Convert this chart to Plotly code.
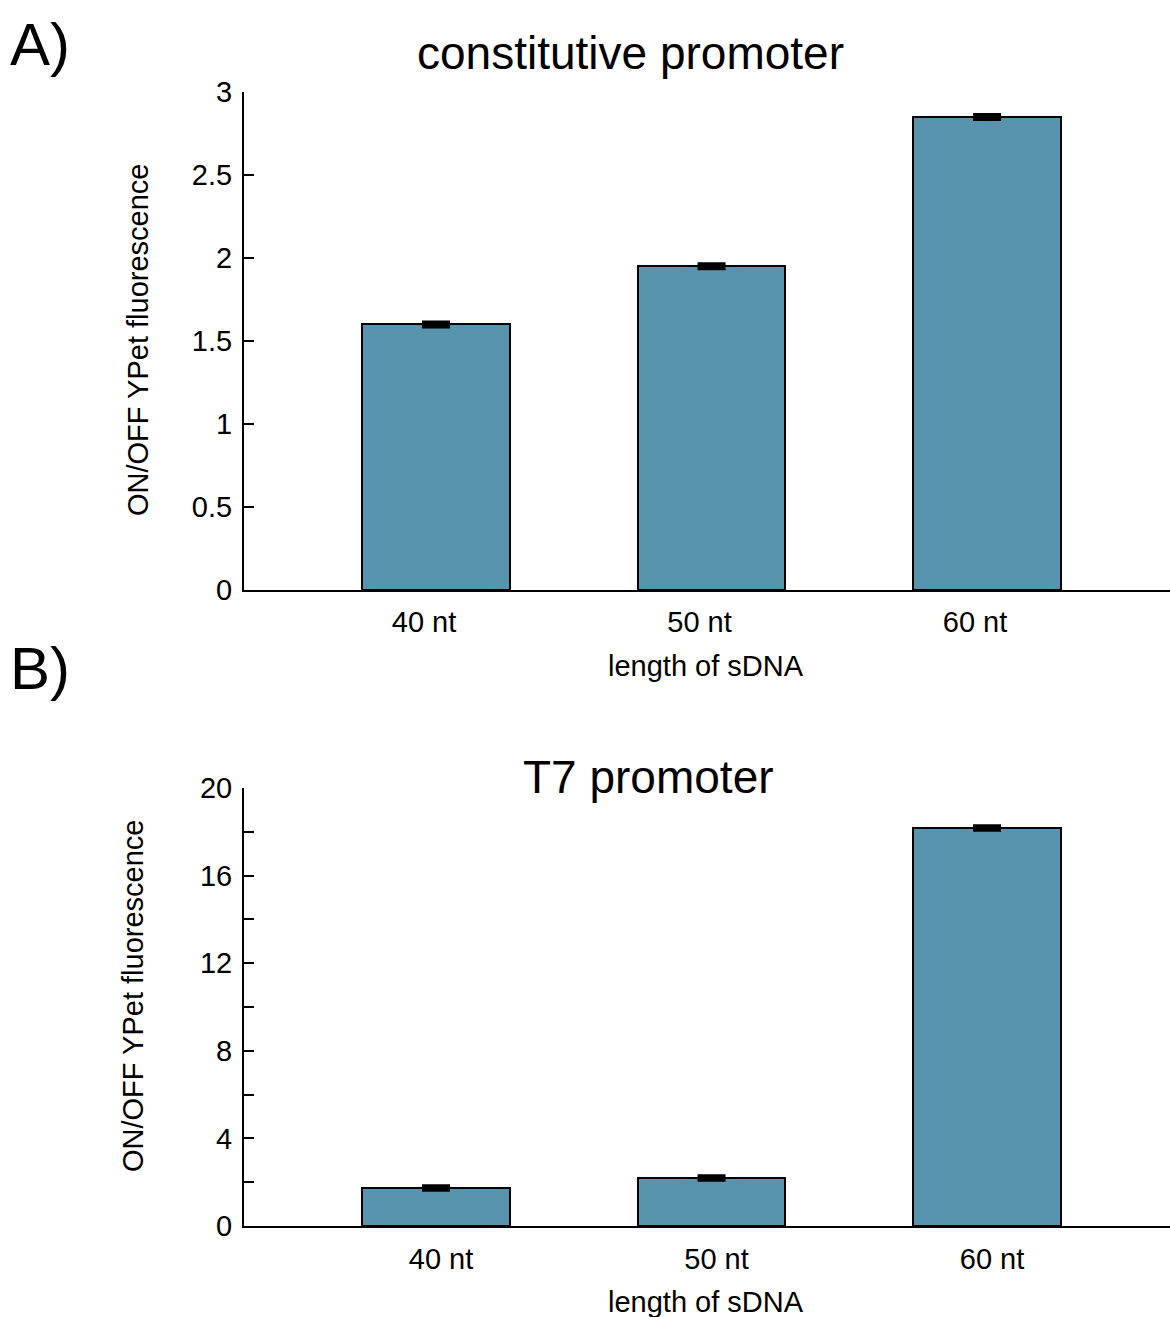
import plotly.graph_objects as go

categories = ["40 nt", "50 nt", "60 nt"]
const_values = [1.60, 1.95, 2.85]
const_errors = [0.012, 0.012, 0.012]
t7_values = [1.73, 2.19, 18.17]
t7_errors = [0.08, 0.08, 0.08]
const_ticks = [0, 0.5, 1, 1.5, 2, 2.5, 3]
const_ticklabels = ["0", "0.5", "1", "1.5", "2", "2.5", "3"]
t7_ticks = [0, 4, 8, 12, 16, 20]

W, H = 1170, 1317
BAR = "#5894ad"
FONT = "Liberation Sans, Arial, sans-serif"
TICKSZ = 29

def py(p):
    return 1 - p / H

fig = go.Figure()
fig.add_trace(go.Bar(x=[0, 1, 2], y=const_values,
                     error_y=dict(type="data", array=const_errors, color="black", thickness=4, width=14),
                     marker=dict(color=BAR, line=dict(color="black", width=2)),
                     width=0.535, xaxis="x", yaxis="y", showlegend=False))
fig.add_trace(go.Bar(x=[0, 1, 2], y=t7_values,
                     error_y=dict(type="data", array=t7_errors, color="black", thickness=4, width=14),
                     marker=dict(color=BAR, line=dict(color="black", width=2)),
                     width=0.535, xaxis="x2", yaxis="y2", showlegend=False))

xcommon = dict(range=[-0.697, 2.664], showline=True, linecolor="black", linewidth=2,
               ticks="", tickmode="array", tickvals=[0, 1, 2], ticktext=categories,
               tickfont=dict(size=TICKSZ, color="black", family=FONT), showgrid=False,
               zeroline=False, fixedrange=True, automargin=False)
ycommon = dict(showline=True, linecolor="black", linewidth=2, ticks="inside", ticklen=10,
               tickwidth=2, tickcolor="black", showgrid=False, zeroline=False, automargin=False,
               tickfont=dict(size=TICKSZ, color="black", family=FONT), ticklabelstandoff=4)

fig.update_layout(
    width=W, height=H, paper_bgcolor="white", plot_bgcolor="white",
    margin=dict(l=0, r=0, t=0, b=0, pad=0, autoexpand=False),
    font=dict(family=FONT, color="black"),
    bargap=0,
    xaxis=dict(domain=[244 / W, 1.0], anchor="y", ticklabelshift=-12, ticklabelstandoff=5, **xcommon),
    yaxis=dict(domain=[py(590), py(92)], anchor="x", range=[0, 3], tickvals=const_ticks,
               ticktext=const_ticklabels, **ycommon),
    xaxis2=dict(domain=[244 / W, 1.0], anchor="y2", ticklabelshift=5, ticklabelstandoff=6, **xcommon),
    yaxis2=dict(domain=[py(1226), py(788)], anchor="x2", range=[0, 20], tickvals=t7_ticks,
                minor=dict(ticks="inside", ticklen=10, tickwidth=2, tickcolor="black", dtick=2, tick0=0),
                **ycommon),
)

ann = [
    dict(text="A)", x=40 / W, y=py(44), size=60),
    dict(text="B)", x=40 / W, y=py(668), size=60),
    dict(text="constitutive promoter", x=630 / W, y=py(53), size=46),
    dict(text="T7 promoter", x=648 / W, y=py(777), size=46),
    dict(text="length of sDNA", x=706 / W, y=py(666), size=TICKSZ),
    dict(text="length of sDNA", x=706 / W, y=py(1302), size=TICKSZ),
]
for a in ann:
    fig.add_annotation(text=a["text"], x=a["x"], y=a["y"], xref="paper", yref="paper",
                       showarrow=False, xanchor="center", yanchor="middle",
                       font=dict(size=a["size"], color="black", family=FONT))
for xc, yc in [(138, 340), (133, 996)]:
    fig.add_annotation(text="ON/OFF YPet fluorescence", x=xc / W, y=py(yc), xref="paper", yref="paper",
                       showarrow=False, textangle=-90, xanchor="center", yanchor="middle",
                       font=dict(size=TICKSZ, color="black", family=FONT))

fig.write_html("out.html", config={"displayModeBar": False},
               post_script="document.body.style.margin='0';document.body.style.overflow='hidden';")
